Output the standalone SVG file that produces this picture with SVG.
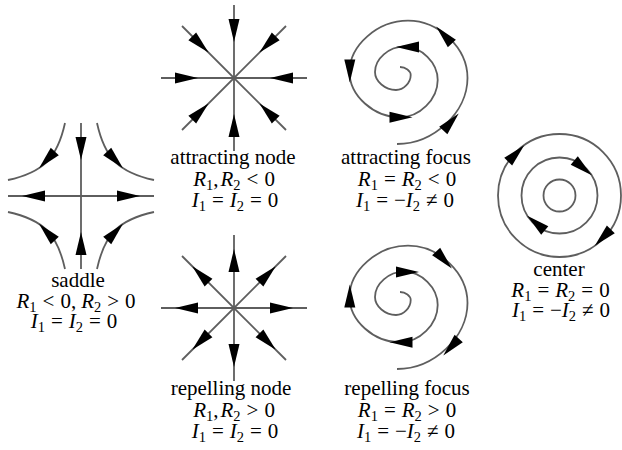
<svg xmlns="http://www.w3.org/2000/svg" xmlns:xlink="http://www.w3.org/1999/xlink" width="622" height="450" viewBox="0 0 622 450">
<style>
.ln{fill:none;stroke:#5e5e5e;stroke-width:1.8}
.ah{fill:#000}
.t{font-family:"Liberation Serif","Times New Roman",serif;font-size:21px;fill:#000;text-anchor:middle}
.i{font-style:italic}
.s{font-size:14.5px}
</style>
<defs>
<path id="a" d="M11.5,0 L-11.5,-5.5 L-11.5,5.5 Z"/>
<path id="sp" d="M397,144 C433.7,144 467.5,112.3 467.5,78 C467.5,48.2 438.9,20.7 408,20.7 C377.6,20.7 349.5,45.3 349.5,72 C349.5,95.6 373.7,117.3 400,117.3 C419.6,117.3 437.7,99.4 437.7,80 C437.7,62.7 421.5,46.7 404,46.7 C388.9,46.7 375,58.8 375,72 C375,81.4 385.1,90 396,90 C403.6,90 410.7,82.8 410.7,75 C410.7,70.8 405.6,67 400,67"/>
</defs>
<g id="connectors">
</g>
<g id="saddle">
<line class="ln" x1="81" y1="123" x2="81" y2="269"/>
<line class="ln" x1="8" y1="196" x2="154" y2="196"/>
<path class="ln" d="M65,123 C57.29,158.18 43.18,172.29 8,180"/>
<path class="ln" d="M97,123 C104.71,158.18 118.82,172.29 154,180"/>
<path class="ln" d="M65,269 C57.29,233.82 43.18,219.71 8,212"/>
<path class="ln" d="M97,269 C104.71,233.82 118.82,219.71 154,212"/>
<use xlink:href="#a" class="ah" transform="translate(81,148.5) rotate(90)"/>
<use xlink:href="#a" class="ah" transform="translate(81,243.5) rotate(270)"/>
<use xlink:href="#a" class="ah" transform="translate(128.5,196)"/>
<use xlink:href="#a" class="ah" transform="translate(33.5,196) rotate(180)"/>
<use xlink:href="#a" class="ah" transform="translate(46.9,159.8) rotate(133.2)"/>
<use xlink:href="#a" class="ah" transform="translate(115.1,159.8) rotate(46.8)"/>
<use xlink:href="#a" class="ah" transform="translate(46.9,232.2) rotate(-133.2)"/>
<use xlink:href="#a" class="ah" transform="translate(115.1,232.2) rotate(-46.8)"/>
<text class="t" x="78" y="287">saddle</text>
<text class="t" x="76" y="307.5"><tspan class="i">R</tspan><tspan class="s" dy="4">1</tspan><tspan dy="-4" dx="6">&lt;</tspan><tspan dx="6">0,</tspan><tspan class="i" dx="5">R</tspan><tspan class="s" dy="4">2</tspan><tspan dy="-4" dx="6">&gt;</tspan><tspan dx="6">0</tspan></text>
<text class="t" x="74" y="328"><tspan class="i">I</tspan><tspan class="s" dy="4">1</tspan><tspan dy="-4" dx="6">=</tspan><tspan class="i" dx="6">I</tspan><tspan class="s" dy="4">2</tspan><tspan dy="-4" dx="6">=</tspan><tspan dx="6">0</tspan></text>
</g>
<g id="attracting-node">
<line class="ln" x1="234" y1="5" x2="234" y2="151"/>
<line class="ln" x1="161" y1="78" x2="307" y2="78"/>
<line class="ln" x1="182" y1="26" x2="286" y2="130"/>
<line class="ln" x1="182" y1="130" x2="286" y2="26"/>
<use xlink:href="#a" class="ah" transform="translate(281.5,78) rotate(180)"/>
<use xlink:href="#a" class="ah" transform="translate(267.6,111.6) rotate(225)"/>
<use xlink:href="#a" class="ah" transform="translate(234,125.5) rotate(270)"/>
<use xlink:href="#a" class="ah" transform="translate(200.4,111.6) rotate(315)"/>
<use xlink:href="#a" class="ah" transform="translate(186.5,78)"/>
<use xlink:href="#a" class="ah" transform="translate(200.4,44.4) rotate(45)"/>
<use xlink:href="#a" class="ah" transform="translate(234,30.5) rotate(90)"/>
<use xlink:href="#a" class="ah" transform="translate(267.6,44.4) rotate(135)"/>
<text class="t" x="233" y="164">attracting node</text>
<text class="t" x="234" y="185.5"><tspan class="i">R</tspan><tspan class="s" dy="4">1</tspan><tspan dy="-4">,</tspan><tspan class="i" dx="2">R</tspan><tspan class="s" dy="4">2</tspan><tspan dy="-4" dx="6">&lt;</tspan><tspan dx="6">0</tspan></text>
<text class="t" x="235" y="207"><tspan class="i">I</tspan><tspan class="s" dy="4">1</tspan><tspan dy="-4" dx="6">=</tspan><tspan class="i" dx="6">I</tspan><tspan class="s" dy="4">2</tspan><tspan dy="-4" dx="6">=</tspan><tspan dx="6">0</tspan></text>
</g>
<g id="attracting-focus">
<use xlink:href="#sp" class="ln"/>
<use xlink:href="#a" class="ah" transform="translate(451,122) rotate(-48)"/>
<use xlink:href="#a" class="ah" transform="translate(444,35) rotate(-133)"/>
<use xlink:href="#a" class="ah" transform="translate(349.8,71) rotate(90)"/>
<use xlink:href="#a" class="ah" transform="translate(401,117.3)"/>
<use xlink:href="#a" class="ah" transform="translate(407.5,47) rotate(180)"/>
<text class="t" x="406" y="164">attracting focus</text>
<text class="t" x="407" y="185.5"><tspan class="i">R</tspan><tspan class="s" dy="4">1</tspan><tspan dy="-4" dx="6">=</tspan><tspan class="i" dx="6">R</tspan><tspan class="s" dy="4">2</tspan><tspan dy="-4" dx="6">&lt;</tspan><tspan dx="6">0</tspan></text>
<text class="t" x="405" y="207"><tspan class="i">I</tspan><tspan class="s" dy="4">1</tspan><tspan dy="-4" dx="6">=</tspan><tspan dx="6">−</tspan><tspan class="i">I</tspan><tspan class="s" dy="4">2</tspan><tspan dy="-4" dx="6">≠</tspan><tspan dx="6">0</tspan></text>
</g>
<g id="center">
<circle class="ln" cx="559.5" cy="195.5" r="16"/>
<circle class="ln" cx="559.5" cy="195.5" r="38"/>
<circle class="ln" cx="559.5" cy="195.5" r="61.5"/>
<use xlink:href="#a" class="ah" transform="translate(516.2,153.4) rotate(-45.8)"/>
<use xlink:href="#a" class="ah" transform="translate(602.8,237.6) rotate(134.2)"/>
<use xlink:href="#a" class="ah" transform="translate(583,167.9) rotate(40.4)"/>
<use xlink:href="#a" class="ah" transform="translate(536,223.1) rotate(220.4)"/>
<text class="t" x="559" y="276">center</text>
<text class="t" x="560.5" y="296.5"><tspan class="i">R</tspan><tspan class="s" dy="4">1</tspan><tspan dy="-4" dx="6">=</tspan><tspan class="i" dx="6">R</tspan><tspan class="s" dy="4">2</tspan><tspan dy="-4" dx="6">=</tspan><tspan dx="6">0</tspan></text>
<text class="t" x="561" y="317"><tspan class="i">I</tspan><tspan class="s" dy="4">1</tspan><tspan dy="-4" dx="6">=</tspan><tspan dx="6">−</tspan><tspan class="i">I</tspan><tspan class="s" dy="4">2</tspan><tspan dy="-4" dx="6">≠</tspan><tspan dx="6">0</tspan></text>
</g>
<g id="repelling-node">
<line class="ln" x1="234" y1="235" x2="234" y2="381"/>
<line class="ln" x1="161" y1="308" x2="307" y2="308"/>
<line class="ln" x1="182" y1="256" x2="286" y2="360"/>
<line class="ln" x1="182" y1="360" x2="286" y2="256"/>
<use xlink:href="#a" class="ah" transform="translate(281.5,308)"/>
<use xlink:href="#a" class="ah" transform="translate(267.6,341.6) rotate(45)"/>
<use xlink:href="#a" class="ah" transform="translate(234,355.5) rotate(90)"/>
<use xlink:href="#a" class="ah" transform="translate(200.4,341.6) rotate(135)"/>
<use xlink:href="#a" class="ah" transform="translate(186.5,308) rotate(180)"/>
<use xlink:href="#a" class="ah" transform="translate(200.4,274.4) rotate(225)"/>
<use xlink:href="#a" class="ah" transform="translate(234,260.5) rotate(270)"/>
<use xlink:href="#a" class="ah" transform="translate(267.6,274.4) rotate(315)"/>
<text class="t" x="231" y="395">repelling node</text>
<text class="t" x="234" y="416.5"><tspan class="i">R</tspan><tspan class="s" dy="4">1</tspan><tspan dy="-4">,</tspan><tspan class="i" dx="2">R</tspan><tspan class="s" dy="4">2</tspan><tspan dy="-4" dx="6">&gt;</tspan><tspan dx="6">0</tspan></text>
<text class="t" x="235" y="438"><tspan class="i">I</tspan><tspan class="s" dy="4">1</tspan><tspan dy="-4" dx="6">=</tspan><tspan class="i" dx="6">I</tspan><tspan class="s" dy="4">2</tspan><tspan dy="-4" dx="6">=</tspan><tspan dx="6">0</tspan></text>
</g>
<g id="repelling-focus">
<use xlink:href="#sp" class="ln" transform="translate(0,225)"/>
<use xlink:href="#a" class="ah" transform="translate(451,347) rotate(132)"/>
<use xlink:href="#a" class="ah" transform="translate(444,260) rotate(47)"/>
<use xlink:href="#a" class="ah" transform="translate(349.8,296) rotate(270)"/>
<use xlink:href="#a" class="ah" transform="translate(401,342.3) rotate(180)"/>
<use xlink:href="#a" class="ah" transform="translate(407.5,272)"/>
<text class="t" x="407" y="395">repelling focus</text>
<text class="t" x="407" y="416.5"><tspan class="i">R</tspan><tspan class="s" dy="4">1</tspan><tspan dy="-4" dx="6">=</tspan><tspan class="i" dx="6">R</tspan><tspan class="s" dy="4">2</tspan><tspan dy="-4" dx="6">&gt;</tspan><tspan dx="6">0</tspan></text>
<text class="t" x="406" y="438"><tspan class="i">I</tspan><tspan class="s" dy="4">1</tspan><tspan dy="-4" dx="6">=</tspan><tspan dx="6">−</tspan><tspan class="i">I</tspan><tspan class="s" dy="4">2</tspan><tspan dy="-4" dx="6">≠</tspan><tspan dx="6">0</tspan></text>
</g>
</svg>
